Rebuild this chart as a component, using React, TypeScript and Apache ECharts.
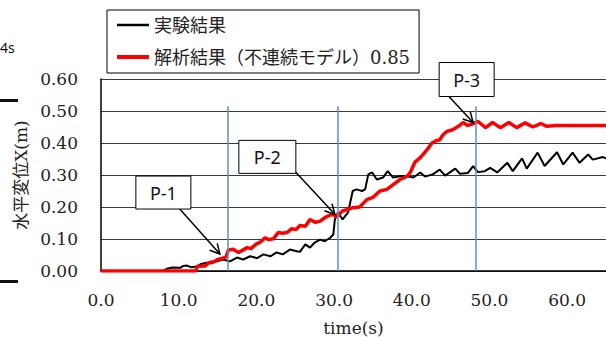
import React, { useEffect, useRef } from "react";
import * as echarts from "echarts";

// ---- data ----
const expTime = [0, 8.0, 8.6, 9.2, 10.2, 10.6, 11.0, 11.6, 12.3, 12.9, 13.6, 14.2, 14.9, 15.7, 16.6, 17.5, 18.3, 19.2, 20.1, 20.9, 21.8, 22.6, 23.4, 24.3, 25.2, 25.6, 26.3, 26.9, 27.5, 28.2, 28.8, 29.5, 29.9, 30.1, 30.5, 31.1, 31.8, 32.4, 32.9, 33.6, 34.0, 34.4, 34.9, 35.5, 36.3, 36.9, 37.6, 38.5, 39.4, 40.2, 41.1, 41.7, 42.7, 43.6, 44.3, 45.6, 46.2, 47.2, 47.9, 48.5, 49.4, 50.1, 51.0, 52.3, 53.0, 54.2, 54.8, 56.2, 57.1, 58.7, 59.5, 60.7, 61.6, 62.7, 63.3, 64.6, 65];
const expDisp = [0, 0, 0.008, 0.011, 0.010, 0.016, 0.017, 0.012, 0.014, 0.022, 0.026, 0.024, 0.030, 0.036, 0.030, 0.042, 0.036, 0.046, 0.040, 0.052, 0.046, 0.058, 0.052, 0.067, 0.062, 0.060, 0.083, 0.073, 0.089, 0.098, 0.093, 0.104, 0.114, 0.161, 0.183, 0.161, 0.183, 0.250, 0.255, 0.250, 0.255, 0.302, 0.308, 0.286, 0.292, 0.312, 0.292, 0.296, 0.296, 0.292, 0.308, 0.295, 0.302, 0.317, 0.298, 0.320, 0.304, 0.306, 0.328, 0.309, 0.312, 0.322, 0.308, 0.338, 0.312, 0.352, 0.320, 0.370, 0.328, 0.371, 0.333, 0.370, 0.338, 0.364, 0.348, 0.356, 0.352];

const anaTime = [0, 12.2, 12.4, 13.4, 13.9, 14.6, 15.0, 15.7, 16.1, 16.4, 17.0, 17.7, 18.3, 18.8, 19.3, 19.9, 20.5, 21.1, 21.6, 22.2, 22.8, 23.4, 24.0, 24.5, 25.1, 25.6, 26.3, 26.9, 27.6, 28.2, 28.9, 29.7, 30.4, 31.1, 31.7, 32.4, 33.3, 34.2, 35.0, 35.9, 36.8, 37.6, 38.5, 39.4, 39.8, 40.4, 41.1, 42.0, 42.6, 43.2, 43.6, 44.0, 44.5, 45.3, 46.0, 46.6, 47.2, 47.9, 48.5, 49.5, 50.4, 51.4, 52.5, 53.5, 54.6, 55.6, 56.6, 57.4, 58.5, 60.0, 62.0, 65.0];
const anaDisp = [0, 0, 0.015, 0.016, 0.026, 0.030, 0.036, 0.040, 0.044, 0.066, 0.068, 0.058, 0.066, 0.073, 0.070, 0.083, 0.090, 0.104, 0.098, 0.101, 0.120, 0.118, 0.121, 0.132, 0.130, 0.142, 0.140, 0.161, 0.152, 0.156, 0.168, 0.177, 0.171, 0.188, 0.192, 0.198, 0.200, 0.223, 0.230, 0.250, 0.255, 0.270, 0.286, 0.296, 0.308, 0.340, 0.354, 0.380, 0.400, 0.408, 0.410, 0.425, 0.436, 0.442, 0.452, 0.464, 0.455, 0.460, 0.468, 0.448, 0.464, 0.448, 0.464, 0.448, 0.463, 0.450, 0.461, 0.452, 0.455, 0.455, 0.455, 0.455];

const markerTimes = [16.3, 30.5, 48.2];
const markerTop = 0.515;

const annLabels = ["P-1", "P-2", "P-3"];
const annTime = [15.3, 30.1, 47.9];
const annValue = [0.053, 0.177, 0.464];

const seriesNames = ["実験結果", "解析結果（不連続モデル）0.85"];
const xLabelName = "time(s)";
const yLabelName = "水平変位X(m)";

// ---- layout of annotation boxes relative to the arrow tip (pixels) ----
const annBox = [
  { dx: -84, dy: -78, w: 55, h: 33, sx: -41, sy: -46 },
  { dx: -96, dy: -74, w: 57, h: 33, sx: -40, sy: -43 },
  { dx: -34, dy: -60, w: 55, h: 34, sx: -27, sy: -29 },
];

export default function App() {
  const ref = useRef<HTMLDivElement>(null);
  useEffect(() => {
    const chart = echarts.init(ref.current!, null, { renderer: "svg" });
    const serif = '"DejaVu Serif", "Noto Sans CJK JP", serif';
    chart.setOption({
      animation: false,
      backgroundColor: "#fff",
      grid: { left: 101, right: 0, top: 79, bottom: 66, containLabel: false, outerBoundsMode: "none" },
      legend: {
        orient: "vertical",
        left: 107,
        top: 10,
        padding: [4, 9, 5, 8],
        itemGap: 10,
        itemWidth: 32,
        itemHeight: 14,
        borderColor: "#000",
        borderWidth: 1,
        borderRadius: 0,
        backgroundColor: "#fff",
        itemStyle: { opacity: 0 },
        textStyle: { fontSize: 18, fontFamily: serif, color: "#222", lineHeight: 22 },
        data: [
          { name: seriesNames[0], lineStyle: { width: 2.5, color: "#000" } },
          { name: seriesNames[1], lineStyle: { width: 4, color: "#ff0000" } },
        ],
      },
      xAxis: {
        type: "value",
        min: 0,
        max: 65,
        interval: 10,
        name: xLabelName,
        nameLocation: "middle",
        nameGap: 48,
        nameTextStyle: { fontFamily: serif, fontSize: 17, color: "#222" },
        axisLine: { show: true, lineStyle: { color: "#000", width: 1.5 } },
        axisTick: { show: false },
        splitLine: { show: false },
        axisLabel: {
          formatter: (v: number) => v.toFixed(1),
          fontFamily: serif,
          fontSize: 17,
          color: "#222",
          margin: 20,
          showMaxLabel: false,
        },
      },
      yAxis: {
        type: "value",
        min: 0,
        max: 0.6,
        interval: 0.1,
        name: yLabelName,
        nameLocation: "middle",
        nameRotate: 90,
        nameGap: 72,
        nameTextStyle: { fontFamily: serif, fontSize: 17, color: "#222" },
        axisLine: { show: true, lineStyle: { color: "#000", width: 1.5 } },
        axisTick: { show: false },
        splitLine: { show: true, lineStyle: { color: "#3a3a3a", width: 1 } },
        axisLabel: {
          formatter: (v: number) => v.toFixed(2),
          fontFamily: serif,
          fontSize: 17,
          color: "#222",
          margin: 23,
        },
      },
      series: [
        {
          name: seriesNames[0],
          type: "line",
          symbol: "none",
          data: expTime.map((t, i) => [t, expDisp[i]]),
          lineStyle: { color: "#000", width: 2 },
          itemStyle: { color: "#000" },
          z: 3,
          markLine: {
            silent: true,
            symbol: ["none", "none"],
            label: { show: false },
            lineStyle: { color: "#5b8fcc", width: 1.5, type: "solid" },
            data: markerTimes.map((t) => [{ coord: [t, 0] }, { coord: [t, markerTop] }]),
          },
        },
        {
          name: seriesNames[1],
          type: "line",
          symbol: "none",
          data: anaTime.map((t, i) => [t, anaDisp[i]]),
          lineStyle: { color: "#ff0000", width: 3.5 },
          itemStyle: { color: "#ff0000" },
          z: 4,
        },
      ],
    });

    const graphics: any[] = [];
    annLabels.forEach((label, i) => {
      const tip = chart.convertToPixel({ gridIndex: 0 }, [annTime[i], annValue[i]]) as number[];
      const b = annBox[i];
      const bx = tip[0] + b.dx;
      const by = tip[1] + b.dy;
      const sx = tip[0] + b.sx;
      const sy = tip[1] + b.sy;
      const ang = Math.atan2(tip[1] - sy, tip[0] - sx);
      const hl = 11;
      const ha = (28 * Math.PI) / 180;
      const h1 = [tip[0] - hl * Math.cos(ang - ha), tip[1] - hl * Math.sin(ang - ha)];
      const h2 = [tip[0] - hl * Math.cos(ang + ha), tip[1] - hl * Math.sin(ang + ha)];
      graphics.push(
        { type: "line", z: 100, shape: { x1: sx, y1: sy, x2: tip[0], y2: tip[1] }, style: { stroke: "#000", lineWidth: 1.5 } },
        { type: "polyline", z: 100, shape: { points: [h1, tip, h2] }, style: { stroke: "#000", lineWidth: 1.5, fill: null } },
        { type: "rect", z: 101, shape: { x: bx, y: by, width: b.w, height: b.h }, style: { fill: "#fff", stroke: "#000", lineWidth: 1 } },
        {
          type: "text",
          z: 102,
          x: bx + b.w / 2,
          y: by + b.h / 2,
          style: { text: label, fontSize: 18, fontFamily: '"Noto Sans", sans-serif', fill: "#111", align: "center", verticalAlign: "middle" },
        }
      );
    });
    // fragments of the neighbouring content at the left edge
    graphics.push(
      { type: "text", z: 100, x: 0, y: 47, style: { text: "4s", fontSize: 14, fontFamily: '"Noto Sans", sans-serif', fill: "#111", align: "left", verticalAlign: "middle" } },
      { type: "rect", z: 100, shape: { x: 0, y: 99, width: 18, height: 3 }, style: { fill: "#111" } },
      { type: "rect", z: 100, shape: { x: 0, y: 280, width: 18, height: 3 }, style: { fill: "#111" } }
    );
    chart.setOption({ graphic: graphics });

    return () => chart.dispose();
  }, []);
  return <div ref={ref} style={{ position: "absolute", left: 0, top: 0, width: 606, height: 337 }} />;
}
